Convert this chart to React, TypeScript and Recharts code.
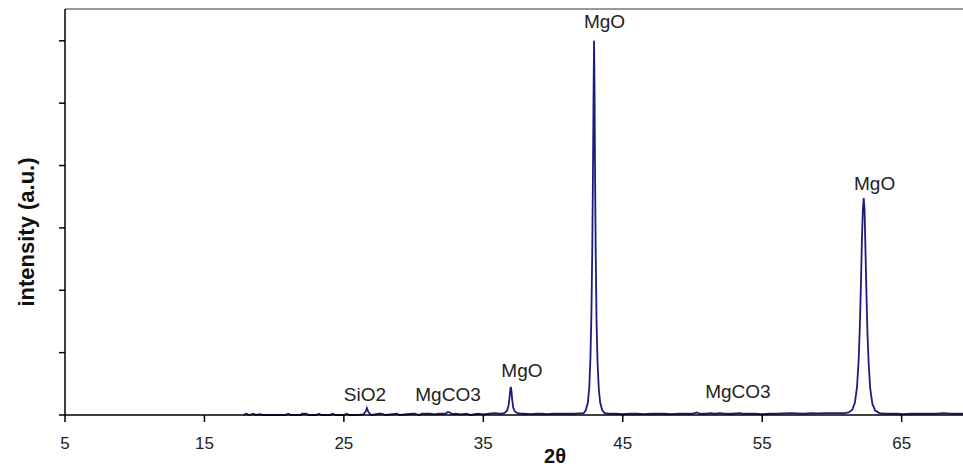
import {
  LineChart,
  Line,
  XAxis,
  YAxis,
  ReferenceDot,
  ReferenceLine,
  Label,
} from "recharts";

// 2θ positions (deg) and intensity (a.u.)
const twoTheta = [
  17.8, 18.0, 18.2, 18.5, 18.7, 19.0, 19.2, 20.8, 21.0, 21.2, 21.9, 22.0, 22.3, 22.5,
  23.0, 23.2, 23.4, 24.0, 24.2, 24.4, 25.0, 25.2, 25.4, 26.0, 26.4, 26.55, 26.65, 26.75,
  26.9, 27.0, 27.5, 27.7, 28.0, 28.8, 29.0, 29.9, 30.1, 30.4, 30.6, 30.9, 31.2, 31.5,
  31.8, 32.1, 32.3, 32.45, 32.6, 32.75, 33.0, 33.4, 33.8, 34.1, 34.6, 35.0, 35.4, 35.8,
  36.2, 36.5, 36.7, 36.8, 36.88, 36.94, 36.97, 37.01, 37.07, 37.14, 37.25, 37.45, 37.7,
  38.0, 38.4, 38.8, 39.2, 39.6, 40.0, 40.5, 41.0, 41.5, 41.9, 42.2, 42.35, 42.5, 42.6,
  42.68, 42.75, 42.81, 42.86, 42.9, 42.94, 42.97, 43.01, 43.06, 43.12, 43.19, 43.28,
  43.38, 43.52, 43.7, 44.0, 44.5, 45.0, 45.5, 46.0, 46.5, 47.0, 47.5, 48.0, 48.5, 49.0,
  49.5, 50.0, 50.3, 50.5, 51.0, 51.3, 51.6, 52.0, 52.3, 52.8, 53.4, 53.6, 54.0, 54.5,
  55.0, 55.5, 56.0, 56.5, 57.0, 57.5, 58.0, 58.5, 59.0, 59.5, 60.0, 60.5, 60.9, 61.2,
  61.45, 61.65, 61.8, 61.92, 62.0, 62.08, 62.15, 62.22, 62.28, 62.34, 62.4, 62.47, 62.55,
  62.64, 62.75, 62.9, 63.1, 63.4, 63.8, 64.2, 64.7, 65.1, 65.6, 66.0, 66.5, 67.0, 67.5,
  68.0, 68.5, 69.0, 69.4,
];

const intensity = [
  0, 0.02, 0, 0.02, 0, 0.015, 0, 0, 0.02, 0, 0, 0.02, 0.02, 0,
  0, 0.02, 0, 0, 0.02, 0, 0, 0.02, 0, 0, 0.01, 0.05, 0.11, 0.05,
  0.01, 0, 0.02, 0.02, 0, 0.02, 0, 0.02, 0.02, 0, 0.02, 0.02, 0.02, 0.01,
  0.02, 0.02, 0.02, 0.05, 0.04, 0.015, 0.02, 0.01, 0.02, 0, 0.02, 0.01, 0.02, 0.03,
  0.02, 0.03, 0.07, 0.14, 0.28, 0.42, 0.45, 0.4, 0.25, 0.12, 0.06, 0.03, 0.02,
  0.02, 0.015, 0.02, 0.02, 0.015, 0.02, 0.02, 0.02, 0.02, 0.025, 0.03, 0.08, 0.2, 0.45,
  0.9, 1.6, 2.6, 3.8, 5.0, 6.0, 5.4, 4.0, 2.6, 1.5, 0.85, 0.42,
  0.2, 0.08, 0.03, 0.02, 0.02, 0.015, 0.02, 0.02, 0.015, 0.02, 0.02, 0.02, 0.015, 0.02,
  0.02, 0.02, 0.04, 0.02, 0.02, 0.03, 0.02, 0.03, 0.02, 0.02, 0.03, 0.02, 0.02, 0.02,
  0.015, 0.02, 0.02, 0.025, 0.03, 0.025, 0.02, 0.03, 0.025, 0.03, 0.03, 0.03, 0.03, 0.04,
  0.08, 0.2, 0.45, 0.9, 1.4, 2.1, 2.8, 3.3, 3.48, 3.3, 2.7, 2.0, 1.3,
  0.8, 0.42, 0.18, 0.07, 0.03, 0.02, 0.02, 0.02, 0.015, 0.02, 0.02, 0.02, 0.02, 0.02,
  0.03, 0.02, 0.02, 0.02,
];

const xTicks = [5, 15, 25, 35, 45, 55, 65];
const yTicks = [0, 1, 2, 3, 4, 5, 6];

// phase labels: text, 2θ, intensity at text baseline
const phaseNames = ["MgO", "MgO", "MgO", "SiO2", "MgCO3", "MgCO3"];
const phaseX = [43.69, 63.06, 37.77, 26.51, 32.47, 53.26];
const phaseY = [6.2, 3.6, 0.615, 0.23, 0.23, 0.28];

const data = twoTheta.map((t, i) => ({ t, v: intensity[i] }));

const font = "'Liberation Sans', Arial, sans-serif";

export default function App() {
  return (
    <div style={{ position: "absolute", left: 0, top: 0, background: "#fff" }}>
      <LineChart
        width={963}
        height={468}
        data={data}
        margin={{ top: 9, right: 0, bottom: 0, left: 0 }}
      >
        <XAxis
          dataKey="t"
          type="number"
          domain={[5, 69.4]}
          ticks={xTicks}
          allowDataOverflow
          height={53}
          stroke="#000"
          strokeWidth={1.5}
          tickSize={7}
          tickMargin={15}
          tick={{ fontSize: 17, fill: "#222", fontFamily: font }}
        >
          <Label
            content={() => (
              <text
                x={555}
                y={463}
                textAnchor="middle"
                fontSize={20}
                fontWeight="bold"
                fill="#111"
                fontFamily={font}
              >
                2θ
              </text>
            )}
          />
        </XAxis>
        <YAxis
          type="number"
          domain={[0, 6.51]}
          ticks={yTicks}
          width={65}
          stroke="#000"
          strokeWidth={1.5}
          tickSize={6}
          tickFormatter={() => ""}
        >
          <Label
            content={() => (
              <text
                x={34}
                y={232}
                transform="rotate(-90 34 232)"
                textAnchor="middle"
                fontSize={22}
                fontWeight="bold"
                fill="#111"
                fontFamily={font}
              >
                intensity (a.u.)
              </text>
            )}
          />
        </YAxis>
        <ReferenceLine y={6.51} stroke="#999" strokeWidth={2} ifOverflow="visible" />
        <Line
          type="linear"
          dataKey="v"
          stroke="#1c1c80"
          strokeWidth={1.8}
          dot={false}
          isAnimationActive={false}
        />
        {phaseNames.map((name, i) => (
          <ReferenceDot
            key={i}
            x={phaseX[i]}
            y={phaseY[i]}
            ifOverflow="visible"
            shape={(p: any) => (
              <text
                x={p.cx}
                y={p.cy}
                textAnchor="middle"
                fontSize={19}
                fill="#222"
                fontFamily={font}
              >
                {name}
              </text>
            )}
          />
        ))}
      </LineChart>
    </div>
  );
}
